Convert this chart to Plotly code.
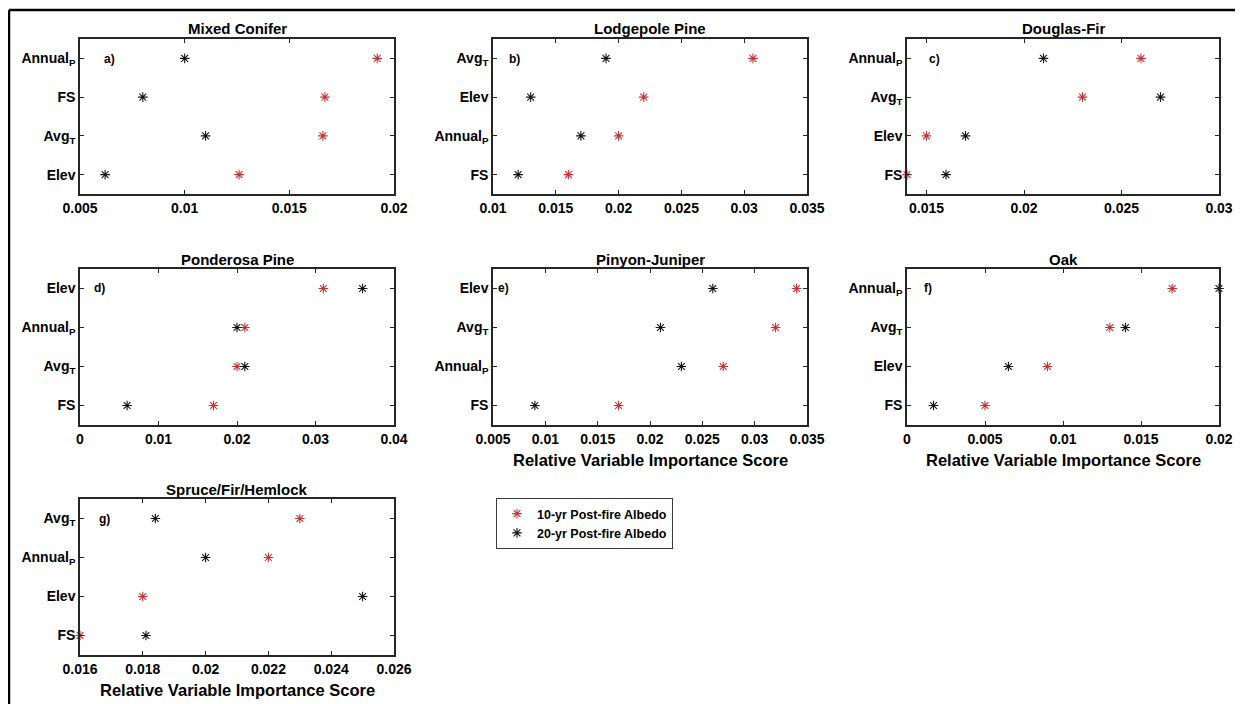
import plotly.graph_objects as go

# ---------------- data ----------------
LABELS = {"Annual_P": "Annual<sub>P</sub>", "Avg_T": "Avg<sub>T</sub>", "FS": "FS", "Elev": "Elev"}

titles = ["Mixed Conifer", "Lodgepole Pine", "Douglas-Fir", "Ponderosa Pine",
          "Pinyon-Juniper", "Oak", "Spruce/Fir/Hemlock"]
letters = ["a)", "b)", "c)", "d)", "e)", "f)", "g)"]

# variables listed top-to-bottom in each panel
mc_vars = ["Annual_P", "FS", "Avg_T", "Elev"]
mc_10 = [0.0192, 0.0167, 0.0166, 0.0126]
mc_20 = [0.0100, 0.0080, 0.0110, 0.0062]

lp_vars = ["Avg_T", "Elev", "Annual_P", "FS"]
lp_10 = [0.0307, 0.0220, 0.0200, 0.0160]
lp_20 = [0.0190, 0.0130, 0.0170, 0.0120]

df_vars = ["Annual_P", "Avg_T", "Elev", "FS"]
df_10 = [0.0260, 0.0230, 0.0150, 0.0140]
df_20 = [0.0210, 0.0270, 0.0170, 0.0160]

pp_vars = ["Elev", "Annual_P", "Avg_T", "FS"]
pp_10 = [0.0310, 0.0210, 0.0200, 0.0170]
pp_20 = [0.0360, 0.0200, 0.0210, 0.0060]

pj_vars = ["Elev", "Avg_T", "Annual_P", "FS"]
pj_10 = [0.0340, 0.0320, 0.0270, 0.0170]
pj_20 = [0.0260, 0.0210, 0.0230, 0.0090]

oak_vars = ["Annual_P", "Avg_T", "Elev", "FS"]
oak_10 = [0.0170, 0.0130, 0.0090, 0.0050]
oak_20 = [0.0200, 0.0140, 0.0065, 0.0017]

sfh_vars = ["Avg_T", "Annual_P", "Elev", "FS"]
sfh_10 = [0.0230, 0.0220, 0.0180, 0.0160]
sfh_20 = [0.0184, 0.0200, 0.0250, 0.0181]

# x-axis ticks / labels per panel
mc_ticks = [0.005, 0.01, 0.015, 0.02]
mc_ticklabels = ["0.005", "0.01", "0.015", "0.02"]
lp_ticks = [0.01, 0.015, 0.02, 0.025, 0.03, 0.035]
lp_ticklabels = ["0.01", "0.015", "0.02", "0.025", "0.03", "0.035"]
df_ticks = [0.015, 0.02, 0.025, 0.03]
df_ticklabels = ["0.015", "0.02", "0.025", "0.03"]
pp_ticks = [0, 0.01, 0.02, 0.03, 0.04]
pp_ticklabels = ["0", "0.01", "0.02", "0.03", "0.04"]
pj_ticks = [0.005, 0.01, 0.015, 0.02, 0.025, 0.03, 0.035]
pj_ticklabels = ["0.005", "0.01", "0.015", "0.02", "0.025", "0.03", "0.035"]
oak_ticks = [0, 0.005, 0.01, 0.015, 0.02]
oak_ticklabels = ["0", "0.005", "0.01", "0.015", "0.02"]
sfh_ticks = [0.016, 0.018, 0.02, 0.022, 0.024, 0.026]
sfh_ticklabels = ["0.016", "0.018", "0.02", "0.022", "0.024", "0.026"]

# axis limits
mc_xlim = [0.005, 0.02]
lp_xlim = [0.01, 0.035]
df_xlim = [0.014, 0.03]
pp_xlim = [0.0, 0.04]
pj_xlim = [0.005, 0.035]
oak_xlim = [0.0, 0.02]
sfh_xlim = [0.016, 0.026]

series_names = ["10-yr Post-fire Albedo", "20-yr Post-fire Albedo"]
xlabel = "Relative Variable Importance Score"

panels = [
    (mc_vars, mc_10, mc_20, mc_ticks, mc_ticklabels, mc_xlim),
    (lp_vars, lp_10, lp_20, lp_ticks, lp_ticklabels, lp_xlim),
    (df_vars, df_10, df_20, df_ticks, df_ticklabels, df_xlim),
    (pp_vars, pp_10, pp_20, pp_ticks, pp_ticklabels, pp_xlim),
    (pj_vars, pj_10, pj_20, pj_ticks, pj_ticklabels, pj_xlim),
    (oak_vars, oak_10, oak_20, oak_ticks, oak_ticklabels, oak_xlim),
    (sfh_vars, sfh_10, sfh_20, sfh_ticks, sfh_ticklabels, sfh_xlim),
]

# ---------------- layout geometry (window pixels) ----------------
OFF = 8                      # page body margin
W, H = 1243 - OFF, 704 - OFF


def px(x):
    return (x - OFF) / W


def py(y):
    return 1 - (y - OFF) / H


col_px = [(80, 394), (493, 807), (907, 1219)]
row_px = [(39, 194), (269, 425), (499, 655)]
letter_off = [22, 14, 20, 12, 3, 15, 17]   # pixel offset of panel letter from axis left
show_xlabel = [False, False, False, False, True, True, True]

RED = "rgb(200,48,52)"
BLACK = "rgb(20,20,20)"
AXC = "rgb(38,38,38)"
FONT = "Liberation Sans, Arial, sans-serif"

fig = go.Figure()
layout = dict(
    template="none",
    width=W, height=H,
    margin=dict(l=0, r=0, t=0, b=0, pad=0),
    paper_bgcolor="white", plot_bgcolor="white",
    font=dict(family=FONT, color="black"),
    showlegend=True,
)
annotations = []

for i, (vars_, v10, v20, ticks, ticklabels, xlim) in enumerate(panels):
    k = i + 1
    r, c = divmod(i, 3)
    x0, x1 = col_px[c]
    y0, y1 = row_px[r]
    xd = [px(x0), px(x1)]
    yd = [py(y1), py(y0)]
    xa = "x" if k == 1 else f"x{k}"
    ya = "y" if k == 1 else f"y{k}"
    labels = [LABELS[v] for v in vars_]

    fig.add_trace(go.Scatter(
        x=v10, y=labels, mode="markers", name=series_names[0],
        marker=dict(symbol="asterisk-open", size=8, color=RED, line=dict(color=RED, width=1.1)),
        xaxis=xa, yaxis=ya, showlegend=(k == 1), legendgroup="a", cliponaxis=False))
    fig.add_trace(go.Scatter(
        x=v20, y=labels, mode="markers", name=series_names[1],
        marker=dict(symbol="asterisk-open", size=8, color=BLACK, line=dict(color=BLACK, width=1.1)),
        xaxis=xa, yaxis=ya, showlegend=(k == 1), legendgroup="b", cliponaxis=False))

    axis_common = dict(
        showline=True, linecolor=AXC, linewidth=1.5, mirror="ticks",
        ticks="inside", ticklen=4, tickwidth=1, tickcolor=AXC,
        showgrid=False, zeroline=False, automargin=False,
        tickfont=dict(family=FONT, size=14, color="black", weight="bold"),
    )
    layout["xaxis" if k == 1 else f"xaxis{k}"] = dict(
        axis_common, domain=xd, anchor=ya, range=xlim,
        tickmode="array", tickvals=ticks, ticktext=ticklabels)
    layout["yaxis" if k == 1 else f"yaxis{k}"] = dict(
        axis_common, domain=yd, anchor=xa, type="category",
        categoryorder="array", categoryarray=labels[::-1], range=[-0.5, 3.5])

    # title
    annotations.append(dict(
        text=f"<b>{titles[i]}</b>", xref="paper", yref="paper",
        x=(xd[0] + xd[1]) / 2, y=py(y0 - 10), xanchor="center", yanchor="middle",
        showarrow=False, font=dict(family=FONT, size=15, color="black")))
    # panel letter
    annotations.append(dict(
        text=f"<b>{letters[i]}</b>", xref="paper", yref="paper",
        x=px(x0 + letter_off[i]), y=py(y0 + 19.5), xanchor="left", yanchor="middle",
        showarrow=False, font=dict(family=FONT, size=12, color="black")))
    if show_xlabel[i]:
        annotations.append(dict(
            text=f"<b>{xlabel}</b>", xref="paper", yref="paper",
            x=(xd[0] + xd[1]) / 2, y=py(y1 + 35), xanchor="center", yanchor="middle",
            showarrow=False, font=dict(family=FONT, size=16.5, color="black")))

layout["annotations"] = annotations
layout["legend"] = dict(
    x=px(496), y=py(498), xanchor="left", yanchor="top",
    bordercolor="rgb(60,60,60)", borderwidth=1, bgcolor="white",
    font=dict(family=FONT, size=12.5, color="black", weight="bold"),
    tracegroupgap=0,
)
layout["shapes"] = [
    dict(type="line", xref="paper", yref="paper", x0=px(9), x1=px(9), y0=0, y1=py(10),
         line=dict(color="black", width=2.5)),
    dict(type="line", xref="paper", yref="paper", x0=px(9), x1=1, y0=py(10), y1=py(10),
         line=dict(color="black", width=2.5)),
]
fig.update_layout(**layout)
fig.write_html("out.html")
